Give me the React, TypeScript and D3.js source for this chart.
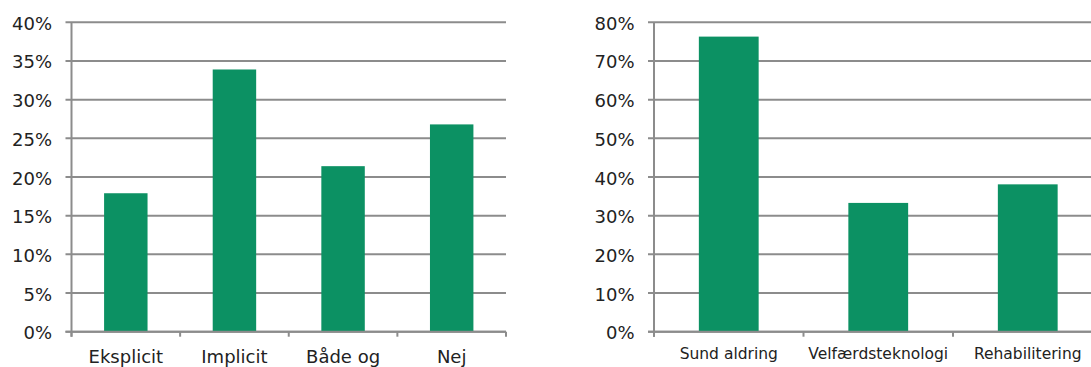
import React from "react";
import * as d3 from "d3";

// Left panel: explicit / implicit
const catsA = ["Eksplicit", "Implicit", "Både og", "Nej"];
const valsA = [0.179, 0.339, 0.214, 0.268];
const ticksA = [0, 0.05, 0.1, 0.15, 0.2, 0.25, 0.3, 0.35, 0.4];

// Right panel: themes
const catsB = ["Sund aldring", "Velfærdsteknologi", "Rehabilitering"];
const valsB = [0.763, 0.333, 0.381];
const ticksB = [0, 0.1, 0.2, 0.3, 0.4, 0.5, 0.6, 0.7, 0.8];

const GREEN = "#0c9163";
const GRID = "#8c8c8c";
const TEXT = "#222222";
const FONT = "'DejaVu Sans', Verdana, sans-serif";

type PanelProps = {
  cats: string[];
  vals: number[];
  ticks: number[];
  left: number;
  right: number;
  top: number;
  bottom: number;
  catFont: number;
  catBaseline: number;
};

function Panel({ cats, vals, ticks, left, right, top, bottom, catFont, catBaseline }: PanelProps) {
  const y = d3.scaleLinear().domain([0, ticks[ticks.length - 1]]).range([bottom, top]);
  const x = d3.scaleBand<string>().domain(cats).range([left, right]).paddingInner(0.6).paddingOuter(0.3);
  const step = x.step();
  const fmt = d3.format(".0%");
  const bounds = d3.range(cats.length + 1).map((i) => left + i * step);

  return (
    <g>
      {ticks.map((t) => (
        <g key={t}>
          <line x1={left - 6} x2={right} y1={y(t)} y2={y(t)} stroke={GRID} strokeWidth={2} />
          <text
            x={left - 19.5}
            y={y(t) + 1}
            textAnchor="end"
            dominantBaseline="central"
            fontFamily={FONT}
            fontSize={18}
            fill={TEXT}
          >
            {fmt(t)}
          </text>
        </g>
      ))}
      {vals.map((v, i) => (
        <rect
          key={cats[i]}
          x={x(cats[i])}
          width={x.bandwidth()}
          y={y(v)}
          height={y(0) - y(v)}
          fill={GREEN}
        />
      ))}
      <line x1={left} x2={left} y1={top} y2={bottom + 5} stroke={GRID} strokeWidth={2} />
      {bounds.map((b, i) => (
        <line key={i} x1={b} x2={b} y1={bottom} y2={bottom + 5} stroke={GRID} strokeWidth={2} />
      ))}
      <line x1={left - 6} x2={right} y1={bottom} y2={bottom} stroke={GRID} strokeWidth={2} />
      {cats.map((c) => (
        <text
          key={c}
          x={(x(c) as number) + x.bandwidth() / 2}
          y={catBaseline}
          textAnchor="middle"
          fontFamily={FONT}
          fontSize={catFont}
          fill={TEXT}
        >
          {c}
        </text>
      ))}
    </g>
  );
}

export default function App() {
  return (
    <div style={{ position: "fixed", left: 0, top: 0, width: 1091, height: 367, background: "#fff" }}>
      <svg width={1091} height={367} style={{ display: "block" }}>
        <rect width={1091} height={367} fill="#fff" />
        <Panel
          cats={catsA}
          vals={valsA}
          ticks={ticksA}
          left={71.5}
          right={506}
          top={22.3}
          bottom={331.7}
          catFont={18}
          catBaseline={363}
        />
        <Panel
          cats={catsB}
          vals={valsB}
          ticks={ticksB}
          left={654}
          right={1102.5}
          top={22.3}
          bottom={331.7}
          catFont={15.5}
          catBaseline={359}
        />
      </svg>
    </div>
  );
}
